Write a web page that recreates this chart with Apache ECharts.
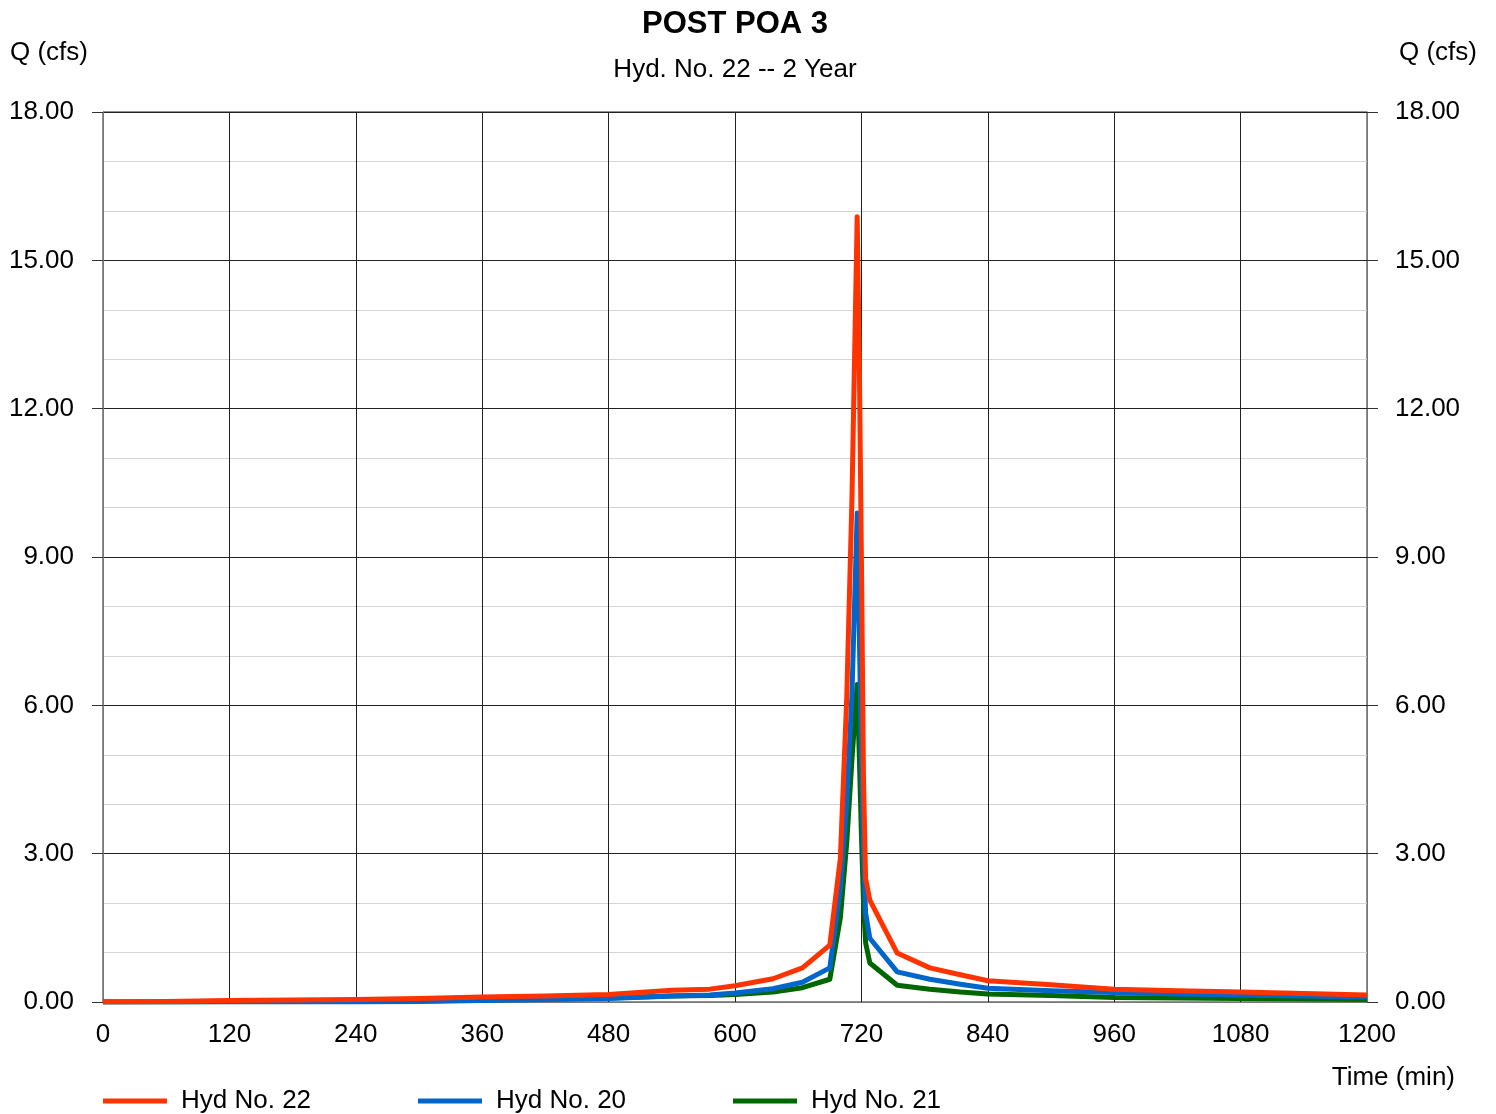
<!DOCTYPE html>
<html>
<head>
<meta charset="utf-8">
<script src="https://cdn.jsdelivr.net/npm/echarts@6/dist/echarts.min.js"></script>
<style>
html,body{margin:0;padding:0;background:#fff;}
#chart{width:1496px;height:1114px;}
</style>
</head>
<body>
<div id="chart"></div>
<script>
const times = [0, 60, 120, 180, 240, 300, 360, 420, 480, 540, 576, 600, 636, 664, 690, 700, 706, 711, 716, 718, 720, 722, 724, 728, 754, 785, 814, 840, 900, 960, 1020, 1080, 1140, 1200];
const hyd22 = [0, 0.01, 0.03, 0.04, 0.05, 0.07, 0.10, 0.12, 0.15, 0.24, 0.26, 0.33, 0.47, 0.69, 1.15, 2.9, 6.1, 10.15, 15.88, 13.0, 9.0, 4.5, 2.5, 2.06, 0.99, 0.69, 0.55, 0.43, 0.35, 0.26, 0.23, 0.20, 0.17, 0.14];
const hyd20 = [0, 0, 0, 0, 0, 0.01, 0.03, 0.05, 0.07, 0.12, 0.14, 0.18, 0.27, 0.40, 0.69, 2.3, 4.0, 6.2, 9.89, 7.5, 5.0, 3.0, 1.8, 1.29, 0.61, 0.46, 0.36, 0.28, 0.23, 0.19, 0.16, 0.14, 0.12, 0.10];
const hyd21 = [0, 0, 0.01, 0.01, 0.01, 0.02, 0.04, 0.06, 0.08, 0.12, 0.13, 0.15, 0.20, 0.29, 0.46, 1.7, 3.2, 4.9, 6.42, 5.0, 3.4, 2.0, 1.2, 0.79, 0.34, 0.26, 0.20, 0.16, 0.13, 0.09, 0.08, 0.07, 0.06, 0.05];
const seriesNames = ['Hyd No. 22', 'Hyd No. 20', 'Hyd No. 21'];
const seriesColors = ['#FF3300', '#0066CC', '#006600'];
const titleText = 'POST POA 3';
const subtitleText = 'Hyd. No. 22 -- 2 Year';

const FONT = 'Liberation Sans, Arial, sans-serif';
const chart = echarts.init(document.getElementById('chart'));
const allData = [hyd22, hyd20, hyd21];

const yAxisCommon = {
  type: 'value', min: 0, max: 18, interval: 3,
  axisLine: {show: true, lineStyle: {color: '#777', width: 1}},
  axisTick: {show: true, length: 11, lineStyle: {color: '#333'}},
  axisLabel: {color: '#000', fontSize: 26, fontFamily: FONT, margin: 29, formatter: v => v.toFixed(2)},
  splitLine: {show: true, lineStyle: {color: '#222', width: 1}},
  minorTick: {show: false, splitNumber: 3},
  minorSplitLine: {show: true, lineStyle: {color: '#d4d4d4', width: 1}}
};

chart.setOption({
  animation: false,
  backgroundColor: '#fff',
  grid: {left: 103, right: 129, top: 112, bottom: 112, containLabel: false, show: true, borderColor: '#222', borderWidth: 1},
  legend: seriesNames.map((n, i) => ({
    data: [n], left: 103 + i * 315, top: 1088, padding: 0, icon: 'rect', itemWidth: 64, itemHeight: 5, itemGap: 0,
    textStyle: {fontSize: 26, color: '#000', fontFamily: FONT, padding: [0, 0, 0, 9]}
  })),
  xAxis: {
    type: 'value', min: 0, max: 1200, interval: 120,
    axisLine: {show: true, lineStyle: {color: '#777'}},
    axisTick: {show: false},
    axisLabel: {color: '#000', fontSize: 26, fontFamily: FONT, margin: 20, formatter: v => String(v)},
    splitLine: {show: true, lineStyle: {color: '#222', width: 1}}
  },
  yAxis: [
    Object.assign({}, yAxisCommon, {position: 'left'}),
    Object.assign({}, yAxisCommon, {position: 'right', axisLabel: Object.assign({}, yAxisCommon.axisLabel, {margin: 28}), splitLine: {show: false}, minorSplitLine: {show: false}})
  ],
  graphic: [
    {type: 'text', x: 735, y: 24, style: {text: titleText, align: 'center', verticalAlign: 'middle', textAlign: 'center', textVerticalAlign: 'middle', font: 'bold 31px ' + FONT, fill: '#000'}},
    {type: 'text', x: 735, y: 70, style: {text: subtitleText, align: 'center', verticalAlign: 'middle', textAlign: 'center', textVerticalAlign: 'middle', font: '26px ' + FONT, fill: '#000'}},
    {type: 'text', left: 10, top: 40, style: {text: 'Q (cfs)', fontSize: 26, fontFamily: FONT, fill: '#000'}},
    {type: 'text', right: 19, top: 40, style: {text: 'Q (cfs)', fontSize: 26, fontFamily: FONT, fill: '#000'}},
    {type: 'text', right: 41, top: 1065, style: {text: 'Time (min)', fontSize: 26, fontFamily: FONT, fill: '#000'}}
  ],
  series: seriesNames.map((n, i) => ({
    name: n, type: 'line', showSymbol: false, symbol: 'none',
    z: 5 - i,
    lineStyle: {color: seriesColors[i], width: 5, join: 'round'},
    itemStyle: {color: seriesColors[i]},
    data: times.map((t, k) => [t, allData[i][k]])
  }))
});
</script>
</body>
</html>
